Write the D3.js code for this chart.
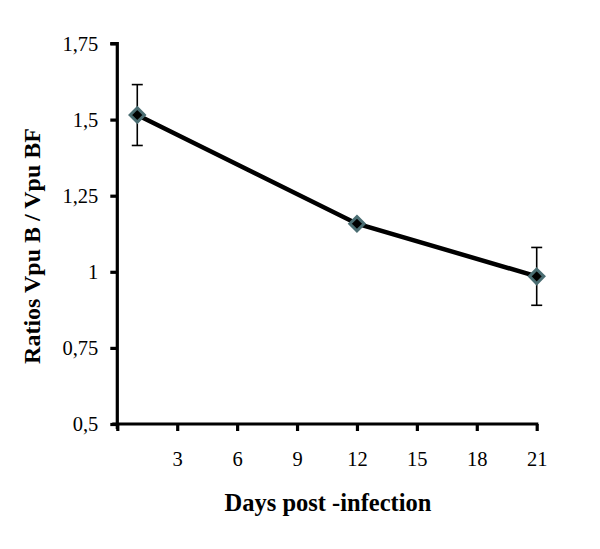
<!DOCTYPE html>
<html><head><meta charset="utf-8">
<script src="https://cdn.jsdelivr.net/npm/d3@7"></script>
<style>body{margin:0;background:#fff;}svg{display:block;}</style>
</head><body>
<svg id="c" width="600" height="549"></svg>
<script>
const days = [1, 12, 21];
const ratios = [1.515, 1.158, 0.985];
const errors = [0.1, 0, 0.095];
const xTicks = [0, 3, 6, 9, 12, 15, 18, 21];
const yTicks = [0.5, 0.75, 1, 1.25, 1.5, 1.75];
const xTitle = "Days post -infection";
const yTitle = "Ratios Vpu B / Vpu BF";

const svg = d3.select("#c");
const x = d3.scaleLinear().domain([0, 21]).range([117.3, 536.7]);
const y = d3.scaleLinear().domain([0.5, 1.75]).range([424, 43.5]);
const fmt = v => String(v).replace(".", ",");

const gx = svg.append("g").attr("transform", `translate(0,${y(0.5)})`)
  .call(d3.axisBottom(x).tickValues(xTicks).tickSize(7).tickPadding(20)
    .tickFormat(d => d === 0 ? "" : d));
const gy = svg.append("g").attr("transform", `translate(${x(0)},0)`)
  .call(d3.axisLeft(y).tickValues(yTicks).tickSize(7).tickPadding(12).tickFormat(fmt));
[gx, gy].forEach(g => {
  g.select(".domain").attr("stroke", "#000").attr("stroke-width", 3.2);
  g.selectAll(".tick line").attr("stroke", "#000").attr("stroke-width", 3.2);
  g.selectAll("text").attr("font-family", "'Liberation Serif', 'Times New Roman', serif")
    .attr("font-size", 20.5).attr("fill", "#000");
});
gx.select(".domain").attr("d", `M${x(0)-5},0H${x(21)+1.6}`);
gy.select(".domain").attr("d", `M-7,${y(1.75)}H0V${y(0.5)+5}`);

// line
svg.append("path").datum(days.map((d, i) => [d, ratios[i]]))
  .attr("fill", "none").attr("stroke", "#000").attr("stroke-width", 4.5)
  .attr("d", d3.line().x(d => x(d[0])).y(d => y(d[1])));

// error bars
const eb = svg.append("g").attr("stroke", "#000").attr("stroke-width", 1.6);
days.forEach((d, i) => {
  if (!errors[i]) return;
  const cx = x(d), t = y(ratios[i] + errors[i]), b = y(ratios[i] - errors[i]);
  eb.append("line").attr("x1", cx).attr("x2", cx).attr("y1", t).attr("y2", b);
  eb.append("line").attr("x1", cx - 5.5).attr("x2", cx + 5.5).attr("y1", t).attr("y2", t);
  eb.append("line").attr("x1", cx - 5.5).attr("x2", cx + 5.5).attr("y1", b).attr("y2", b);
});

// markers
svg.append("g").selectAll("path").data(days).join("path")
  .attr("transform", (d, i) => `translate(${x(d)},${y(ratios[i])})`)
  .attr("d", d3.symbol(d3.symbolDiamond2, 130)())
  .attr("fill", "#000").attr("stroke", "#4a6d72").attr("stroke-width", 3);

// titles
svg.append("text").attr("x", 328).attr("y", 511).attr("text-anchor", "middle")
  .attr("font-family", "'Liberation Serif', 'Times New Roman', serif")
  .attr("font-weight", "bold").attr("font-size", 24.5).text(xTitle);
svg.append("text").attr("transform", "translate(40,246) rotate(-90)").attr("text-anchor", "middle")
  .attr("font-family", "'Liberation Serif', 'Times New Roman', serif")
  .attr("font-weight", "bold").attr("font-size", 24).text(yTitle);
</script>
</body></html>
